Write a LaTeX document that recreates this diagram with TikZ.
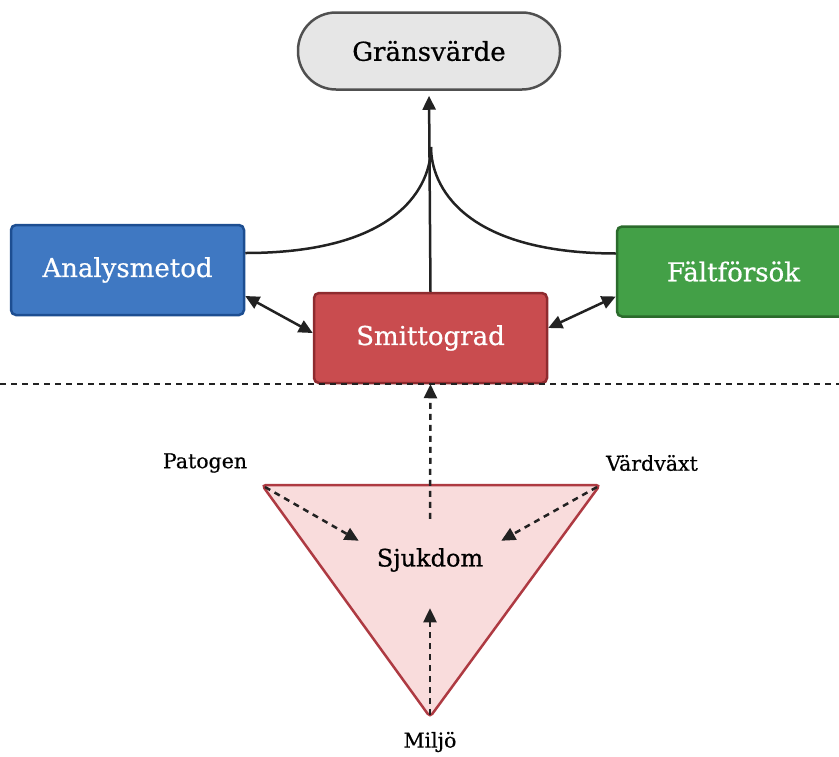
\documentclass[tikz,border=0pt]{standalone}
\usepackage{fontspec}
\setmainfont{DejaVu Serif}[UprightFeatures={FakeBold=0.6}]
\usetikzlibrary{arrows.meta}

\definecolor{analysfill}{HTML}{3F78C2}
\definecolor{analysline}{HTML}{1D4E91}
\definecolor{faltfill}{HTML}{43A047}
\definecolor{faltline}{HTML}{2B6B2C}
\definecolor{smittofill}{HTML}{C94C4F}
\definecolor{smittoline}{HTML}{8E2B2F}
\definecolor{trifill}{HTML}{F9DCDC}
\definecolor{triline}{HTML}{AE3A42}
\definecolor{grayfill}{HTML}{E6E6E6}
\definecolor{grayline}{HTML}{505050}
\definecolor{ink}{HTML}{222222}

\tikzset{every path/.style={line width=2.5pt}}
\tikzset{box/.style={draw, rounded corners=5pt, minimum width=233pt, minimum height=90pt,
    text=white, font=\fontsize{26}{30}\selectfont},
  tip/.style={-{Triangle[length=14pt,width=13pt]}},
  twotip/.style={{Triangle[length=14pt,width=13pt]}-{Triangle[length=14pt,width=13pt]}},
  dots/.style={dash pattern=on 6pt off 5pt},
  lbl/.style={font=\fontsize{20.5}{24}\selectfont}}

\begin{document}
\begin{tikzpicture}[x=1pt,y=-1pt]
\useasboundingbox (0,0) rectangle (839,756);

\node[draw=grayline, fill=grayfill, rounded corners=38pt, minimum width=262pt, minimum height=77pt,
  font=\fontsize{26}{30}\selectfont] (grans) at (429,51) {Gränsvärde};
\node[box, fill=analysfill, draw=analysline] (analys) at (127.5,270) {Analysmetod};
\node[box, fill=faltfill, draw=faltline] (falt) at (733.5,271.5) {Fältförsök};
\node[box, fill=smittofill, draw=smittoline] (smitto) at (430.5,338) {Smittograd};

% triangle
\coordinate (patogen) at (265,487);
\coordinate (vardvaxt) at (597,487);
\coordinate (miljo) at (430,715);
\draw[fill=trifill, draw=triline, rounded corners=4pt] (262,485) -- (600,485) -- (430,717) -- cycle;
\node[font=\fontsize{24}{28}\selectfont, minimum width=140pt, minimum height=36pt] (sjuk) at (430,560) {Sjukdom};

\node[lbl] (patogenlbl) at (205,463) {Patogen};
\node[lbl] (vardlbl) at (652,463) {Värdväxt};
\node[lbl] (miljolbl) at (430,742) {Miljö};

\draw[ink, dots, tip] (patogen) -- (sjuk.north west);
\draw[ink, dots, tip] (vardvaxt) -- (sjuk.north east);
\draw[ink, dots, tip, shorten >=29pt] (miljo) -- (sjuk.south);
\draw[ink, dots, tip, shorten <=22pt] (sjuk.north) -- (smitto.south);

% border line
\draw[ink, dots] (0,384) -- (839,384);

% towards the threshold
\coordinate (join) at (431,147);
\draw[ink] ([yshift=17pt]analys.east) .. controls (400,253) and (431,185) .. (join);
\draw[ink] ([yshift=18pt]falt.west) .. controls (462,253) and (431,185) .. (join);
\draw[ink, tip, shorten >=5pt] (smitto.north) -- (grans.south);

\draw[ink, twotip] ([yshift=-26pt]analys.east) -- ([yshift=5pt]smitto.west);
\draw[ink, twotip] ([yshift=-25pt]falt.west) -- ([yshift=10pt]smitto.east);
\end{tikzpicture}
\end{document}
